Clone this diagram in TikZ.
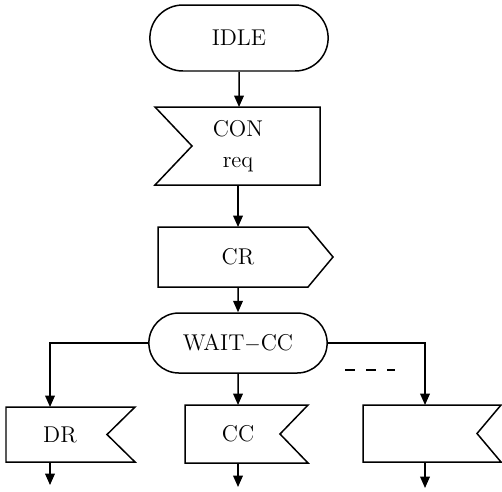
\documentclass[tikz,border=0pt]{standalone}
\usetikzlibrary{arrows.meta,shapes.misc}
\tikzstyle{flowchart} = [
  x=0.02cm, y=-0.02cm,
  line width=0.85pt,
  font=\fontsize{13}{15}\selectfont,
]
\tikzstyle{state} = [rounded rectangle, draw, minimum width=3.8cm, minimum height=1.2cm]
\tikzstyle{flow} = [-{Triangle[length=6.5pt,width=5.5pt]}]

\begin{document}
\begin{tikzpicture}[flowchart]
  \useasboundingbox (0,0) rectangle (502,491);

  % States
  \node[state, minimum height=1.32cm] (idle) at (239,38) {IDLE};
  \node[state] (wait) at (238,343) {WAIT$-$CC};

  % Input CON req
  \draw (155,107) -- (320,107) -- (320,185) -- (155,185) -- (192,146) -- cycle;
  \node[align=center] (con) at (238,146) {CON\\[3pt]req};
  \coordinate (conin) at (238,107);
  \coordinate (conout) at (238,185);

  % Output CR
  \draw (158,227) -- (308,227) -- (333,257) -- (308,287) -- (158,287) -- cycle;
  \node (cr) at (238,257) {CR};
  \coordinate (crin) at (238,227);
  \coordinate (crout) at (238,287);

  % Inputs after WAIT-CC
  \draw (6,407) -- (135,407) -- (107,434.5) -- (135,462) -- (6,462) -- cycle;
  \node (dr) at (60,435) {DR};
  \coordinate (drin) at (50,407);
  \coordinate (drout) at (50,462);
  \coordinate (drnext) at (50,485);

  \draw (185,405) -- (308,405) -- (280,434) -- (308,463) -- (185,463) -- cycle;
  \node (cc) at (238,434) {CC};
  \coordinate (ccin) at (238,405);
  \coordinate (ccout) at (238,463);
  \coordinate (ccnext) at (238,487);

  \draw (363,405) -- (501,405) -- (477,433.5) -- (501,462) -- (363,462) -- cycle;
  \coordinate (otherin) at (425,405);
  \coordinate (otherout) at (425,462);
  \coordinate (othernext) at (425,488);

  % Arrows
  \draw[flow] (idle) -- (idle |- conin);
  \draw[flow] (conout) -- (crin);
  \draw[flow] (crout) -- (wait);
  \draw[flow] (wait.west) -| (drin);
  \draw[flow] (wait) -- (ccin);
  \draw[flow] (wait.east) -| (otherin);
  \draw[flow] (drout) -- (drnext);
  \draw[flow] (ccout) -- (ccnext);
  \draw[flow] (otherout) -- (othernext);

  % More inputs
  \draw[dash pattern=on 0.2cm off 0.22cm] (345,370) -- (395,370);
\end{tikzpicture}
\end{document}
